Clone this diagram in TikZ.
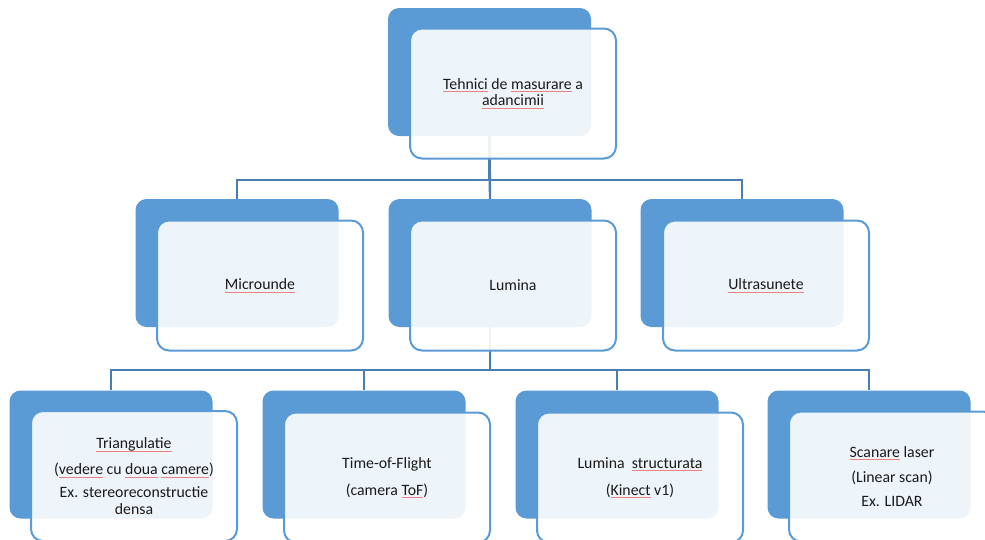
\documentclass[tikz,border=0pt]{standalone}
\usepackage{fontspec}
\setmainfont{Carlito}
\definecolor{boxblue}{HTML}{5B9BD5}
\definecolor{connblue}{HTML}{4A7EB0}
\definecolor{spell}{HTML}{F08080}
\definecolor{txtc}{HTML}{1A1A1A}
\newcommand\splerr[1]{{\setbox0=\hbox{#1}\rlap{\textcolor{spell}{\rule[-2.6pt]{\wd0}{0.6pt}}}\box0}}
\tikzset{
  backbox/.style={fill=boxblue, draw=none, rounded corners=11pt, inner sep=0pt,
    minimum width=203pt, minimum height=128pt},
  frontbox/.style={fill=white, fill opacity=0.9, text opacity=1, draw=boxblue, line width=2pt,
    rounded corners=12pt, inner sep=0pt, minimum width=206pt, minimum height=130pt,
    align=center, text=txtc, font=\fontsize{15.8}{16.5}\selectfont},
  conn/.style={draw=connblue, line width=2.4pt}
}
\begin{document}
\begin{tikzpicture}[x=1pt,y=-1pt]
\clip (0,0) rectangle (985,539);
\fill[white] (0,0) rectangle (985,539);
% back boxes
\node[backbox] (tb) at (489.5,72) {};
\node[backbox] (mb1) at (237,263) {};
\node[backbox] (mb2) at (490,263) {};
\node[backbox] (mb3) at (742,263) {};
\node[backbox] (bb1) at (111,454.5) {};
\node[backbox] (bb2) at (364,454.5) {};
\node[backbox] (bb3) at (617,454.5) {};
\node[backbox] (bb4) at (869,454.5) {};
% connectors
\draw[conn] (tb.south) -- ++(0,44) -| (mb1.north);
\draw[conn] (tb.south) -- ++(0,44) -| (mb3.north);
\draw[conn] (tb.south) -- (mb2.north);
\draw[conn] (mb2.south) -- ++(0,43) -| (bb1.north);
\draw[conn] (mb2.south) -- ++(0,43) -| (bb2.north);
\draw[conn] (mb2.south) -- ++(0,43) -| (bb3.north);
\draw[conn] (mb2.south) -- ++(0,43) -| (bb4.north);
% front boxes
\node[frontbox] (tf) at (513,93.5) {\splerr{Tehnici} de \splerr{masurare} a\\\splerr{adancimii}};
\node[frontbox] (mf1) at (260,285.5) {\splerr{Microunde}};
\node[frontbox] (mf2) at (513,285.5) {Lumina};
\node[frontbox] (mf3) at (766,285.5) {\splerr{Ultrasunete}};
\node[frontbox] (bf1) at (134,476) {\splerr{Triangulatie}\\[9.5pt](\splerr{vedere} cu \splerr{doua} \splerr{camere})\\[6.5pt]Ex. stereoreconstructie\\densa};
\node[frontbox] (bf2) at (387,477.5) {Time-of-Flight\\[10.5pt](camera \splerr{ToF})};
\node[frontbox] (bf3) at (640,477.5) {Lumina\ \ \splerr{structurata}\\[10.5pt](\splerr{Kinect} v1)};
\node[frontbox] (bf4) at (892,476.5) {\splerr{Scanare} laser\\[8.5pt](Linear scan)\\[7.5pt]Ex. LIDAR};
\end{tikzpicture}
\end{document}
